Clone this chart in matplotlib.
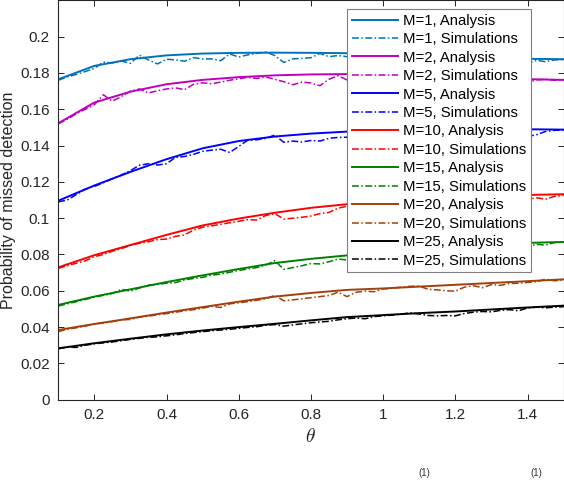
import matplotlib
matplotlib.use("Agg")
import matplotlib.pyplot as plt
from matplotlib.ticker import FuncFormatter

plt.rcParams.update({
    "font.family": ["Liberation Sans", "DejaVu Sans"],
    "font.size": 11,
    "mathtext.fontset": "cm",
    "axes.linewidth": 0.8,
})

# ── data ────────────────────────────────────────────────────────────────────
theta_ana = [0.1, 0.2, 0.3, 0.4, 0.5, 0.6, 0.7, 0.8, 0.9, 1.0, 1.1, 1.2, 1.3, 1.4, 1.5]

ana_m1 = [0.1765, 0.1839, 0.1876, 0.1897, 0.1907, 0.1911, 0.1912, 0.1911, 0.1909,
          0.1905, 0.1899, 0.1892, 0.1884, 0.1878, 0.1876]
ana_m2 = [0.1523, 0.1637, 0.1697, 0.1738, 0.1762, 0.1777, 0.1787, 0.1792, 0.1794,
          0.1793, 0.1789, 0.1782, 0.1774, 0.1766, 0.1762]
ana_m5 = [0.1096, 0.1180, 0.1255, 0.1325, 0.1385, 0.1425, 0.1450, 0.1466, 0.1477,
          0.1483, 0.1487, 0.1489, 0.1490, 0.1490, 0.1488]
ana_m10 = [0.0729, 0.0796, 0.0852, 0.0908, 0.0960, 0.0998, 0.1030, 0.1057, 0.1077,
           0.1092, 0.1105, 0.1115, 0.1122, 0.1128, 0.1132]
ana_m15 = [0.0522, 0.0568, 0.0608, 0.0648, 0.0685, 0.0720, 0.0753, 0.0776, 0.0795,
           0.0812, 0.0828, 0.0841, 0.0853, 0.0864, 0.0869]
ana_m20 = [0.0384, 0.0417, 0.0448, 0.0480, 0.0510, 0.0540, 0.0568, 0.0588, 0.0605,
           0.0613, 0.0623, 0.0633, 0.0643, 0.0653, 0.0663]
ana_m25 = [0.0283, 0.0311, 0.0336, 0.0360, 0.0381, 0.0400, 0.0418, 0.0437, 0.0455,
           0.0466, 0.0477, 0.0486, 0.0497, 0.0508, 0.0518]

theta_sim = [0.100, 0.125, 0.150, 0.175, 0.200, 0.225, 0.250, 0.275, 0.300, 0.325,
             0.350, 0.375, 0.400, 0.425, 0.450, 0.475, 0.500, 0.525, 0.550, 0.575,
             0.600, 0.625, 0.650, 0.675, 0.700, 0.725, 0.750, 0.775, 0.800, 0.825,
             0.850, 0.875, 0.900, 0.925, 0.950, 0.975, 1.000, 1.025, 1.050, 1.075,
             1.100, 1.125, 1.150, 1.175, 1.200, 1.225, 1.250, 1.275, 1.300, 1.325,
             1.350, 1.375, 1.400, 1.425, 1.450, 1.475, 1.500]

sim_m1 = [0.1760, 0.1778, 0.1792, 0.1808, 0.1825, 0.1860, 0.1855, 0.1866, 0.1853, 0.1898,
          0.1872, 0.1850, 0.1876, 0.1872, 0.1865, 0.1885, 0.1877, 0.1878, 0.1868, 0.1905,
          0.1888, 0.1900, 0.1908, 0.1916, 0.1896, 0.1858, 0.1878, 0.1880, 0.1884, 0.1908,
          0.1890, 0.1896, 0.1890, 0.1892, 0.1885, 0.1898, 0.1888, 0.1880, 0.1893, 0.1885,
          0.1890, 0.1878, 0.1886, 0.1880, 0.1888, 0.1876, 0.1884, 0.1872, 0.1880, 0.1875,
          0.1880, 0.1874, 0.1852, 0.1870, 0.1862, 0.1872, 0.1873]
sim_m2 = [0.1520, 0.1545, 0.1575, 0.1600, 0.1625, 0.1680, 0.1645, 0.1670, 0.1700, 0.1712,
          0.1690, 0.1702, 0.1712, 0.1718, 0.1708, 0.1738, 0.1746, 0.1740, 0.1750, 0.1760,
          0.1768, 0.1776, 0.1770, 0.1778, 0.1765, 0.1752, 0.1735, 0.1750, 0.1745, 0.1730,
          0.1765, 0.1785, 0.1762, 0.1778, 0.1770, 0.1782, 0.1772, 0.1765, 0.1778, 0.1770,
          0.1775, 0.1762, 0.1772, 0.1765, 0.1770, 0.1758, 0.1766, 0.1760, 0.1764, 0.1755,
          0.1762, 0.1762, 0.1750, 0.1762, 0.1765, 0.1760, 0.1762]
sim_m5 = [0.1090, 0.1100, 0.1130, 0.1160, 0.1175, 0.1195, 0.1218, 0.1238, 0.1262, 0.1292,
          0.1300, 0.1293, 0.1300, 0.1335, 0.1340, 0.1352, 0.1368, 0.1375, 0.1380, 0.1362,
          0.1395, 0.1430, 0.1432, 0.1440, 0.1458, 0.1418, 0.1425, 0.1420, 0.1428, 0.1425,
          0.1440, 0.1445, 0.1446, 0.1455, 0.1462, 0.1455, 0.1468, 0.1460, 0.1472, 0.1465,
          0.1475, 0.1468, 0.1476, 0.1470, 0.1478, 0.1472, 0.1480, 0.1474, 0.1479, 0.1472,
          0.1478, 0.1470, 0.1450, 0.1460, 0.1478, 0.1484, 0.1486]
sim_m10 = [0.0724, 0.0738, 0.0752, 0.0765, 0.0788, 0.0800, 0.0818, 0.0832, 0.0850, 0.0862,
           0.0870, 0.0882, 0.0885, 0.0900, 0.0908, 0.0935, 0.0950, 0.0958, 0.0966, 0.0975,
           0.0983, 0.0992, 0.0990, 0.1015, 0.1025, 0.0995, 0.1000, 0.1005, 0.1012, 0.1025,
           0.1032, 0.1055, 0.1066, 0.1070, 0.1078, 0.1072, 0.1082, 0.1078, 0.1090, 0.1085,
           0.1095, 0.1090, 0.1100, 0.1095, 0.1105, 0.1100, 0.1110, 0.1105, 0.1112, 0.1108,
           0.1115, 0.1115, 0.1104, 0.1112, 0.1105, 0.1120, 0.1126]
sim_m15 = [0.0516, 0.0528, 0.0540, 0.0552, 0.0565, 0.0575, 0.0585, 0.0608, 0.0598, 0.0615,
           0.0632, 0.0635, 0.0642, 0.0645, 0.0660, 0.0668, 0.0674, 0.0686, 0.0692, 0.0702,
           0.0712, 0.0720, 0.0728, 0.0742, 0.0766, 0.0718, 0.0728, 0.0738, 0.0750, 0.0748,
           0.0760, 0.0775, 0.0770, 0.0785, 0.0790, 0.0795, 0.0800, 0.0808, 0.0810, 0.0818,
           0.0820, 0.0826, 0.0830, 0.0836, 0.0838, 0.0842, 0.0846, 0.0850, 0.0852, 0.0855,
           0.0858, 0.0856, 0.0843, 0.0856, 0.0852, 0.0866, 0.0868]
sim_m20 = [0.0375, 0.0388, 0.0396, 0.0405, 0.0418, 0.0422, 0.0430, 0.0440, 0.0442, 0.0455,
           0.0460, 0.0468, 0.0474, 0.0482, 0.0490, 0.0496, 0.0504, 0.0515, 0.0508, 0.0528,
           0.0534, 0.0540, 0.0548, 0.0556, 0.0575, 0.0545, 0.0550, 0.0556, 0.0562, 0.0568,
           0.0574, 0.0592, 0.0568, 0.0592, 0.0598, 0.0595, 0.0610, 0.0614, 0.0620, 0.0625,
           0.0626, 0.0608, 0.0605, 0.0600, 0.0598, 0.0620, 0.0628, 0.0617, 0.0634, 0.0630,
           0.0640, 0.0642, 0.0646, 0.0650, 0.0664, 0.0655, 0.0660]
sim_m25 = [0.0280, 0.0290, 0.0288, 0.0300, 0.0308, 0.0313, 0.0318, 0.0325, 0.0332, 0.0338,
           0.0344, 0.0346, 0.0352, 0.0357, 0.0365, 0.0370, 0.0375, 0.0380, 0.0384, 0.0388,
           0.0393, 0.0398, 0.0402, 0.0410, 0.0414, 0.0405, 0.0412, 0.0418, 0.0424, 0.0428,
           0.0432, 0.0440, 0.0446, 0.0450, 0.0446, 0.0458, 0.0462, 0.0466, 0.0472, 0.0478,
           0.0472, 0.0464, 0.0462, 0.0464, 0.0462, 0.0475, 0.0482, 0.0486, 0.0484, 0.0492,
           0.0496, 0.0490, 0.0505, 0.0510, 0.0506, 0.0510, 0.0512]

m_values = [1, 2, 5, 10, 15, 20, 25]
colors = ["#0072BD", "#BF00BF", "#0000FF", "#FF0000", "#008000", "#A2400C", "#000000"]
analysis = [ana_m1, ana_m2, ana_m5, ana_m10, ana_m15, ana_m20, ana_m25]
simulations = [sim_m1, sim_m2, sim_m5, sim_m10, sim_m15, sim_m20, sim_m25]

# ── figure ──────────────────────────────────────────────────────────────────
fig = plt.figure(figsize=(5.64, 4.8), dpi=100, facecolor="white")
ax = fig.add_axes([0.1032, 0.1673, 0.8961, 0.8319])

dashdot = (0, (4.5, 1.6, 1.0, 1.6))
for m, c, ana, sim in zip(m_values, colors, analysis, simulations):
    ax.plot(theta_ana, ana, color=c, lw=1.4, label=f"M={m}, Analysis")
    ax.plot(theta_sim, sim, color=c, lw=1.1, ls=dashdot, label=f"M={m}, Simulations")

ax.set_xlim(0.1, 1.5)
ax.set_ylim(0, 0.22)
ax.set_xticks([0.2, 0.4, 0.6, 0.8, 1.0, 1.2, 1.4])
ax.set_yticks([0, 0.02, 0.04, 0.06, 0.08, 0.1, 0.12, 0.14, 0.16, 0.18, 0.2])
fmt = FuncFormatter(lambda v, p: f"{v:g}")
ax.xaxis.set_major_formatter(fmt)
ax.yaxis.set_major_formatter(fmt)
ax.tick_params(direction="in", length=4, width=0.7, top=True, right=True,
               colors="#262626", labelsize=11, pad=6)
for s in ax.spines.values():
    s.set_color("#262626")

ax.set_xlabel(r"$\theta$", fontsize=14, color="#262626", labelpad=4)
ax.set_ylabel("Probability of missed detection", fontsize=11.5, color="#262626",
              labelpad=3)

leg = ax.legend(loc="upper left", bbox_to_anchor=(0.5714, 0.9785), borderaxespad=0,
                fontsize=10.7, labelspacing=0.3, handlelength=3.1, handletextpad=0.35,
                borderpad=0.32, fancybox=False, framealpha=1, edgecolor="#7f7f7f")
leg.get_frame().set_linewidth(0.8)

# caption fragments at the bottom edge
fig.text(418 / 564, 1 - 478.5 / 480, "(1)", fontsize=7, va="bottom", ha="left",
         color="#333333")
fig.text(530 / 564, 1 - 478.5 / 480, "(1)", fontsize=7, va="bottom", ha="left",
         color="#333333")

fig.savefig("out.png", dpi=100, facecolor="white")
